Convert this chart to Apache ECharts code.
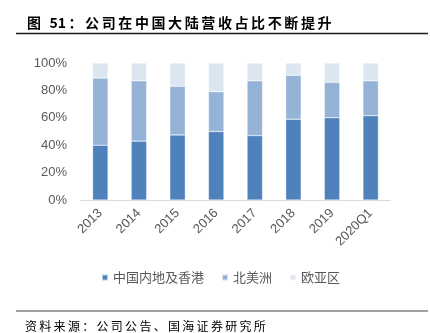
<!DOCTYPE html>
<html>
<head>
<meta charset="utf-8">
<script src="https://cdn.jsdelivr.net/npm/echarts@6/dist/echarts.min.js"></script>
<style>
  html, body { margin: 0; padding: 0; background: #fff; }
  #chart { width: 430px; height: 333px; }
</style>
</head>
<body>
<div id="chart"></div>
<script>
// Revenue share by region (%)
const categories = ['2013', '2014', '2015', '2016', '2017', '2018', '2019', '2020Q1'];
const chinaHK = [40, 43, 47.5, 50, 47, 59, 60, 61.5];
const northAmerica = [49, 44, 35.5, 29, 40, 32, 26, 25.5];
const euroAsia = [11, 13, 17, 21, 13, 9, 14, 13];
const seriesNames = ['中国内地及香港', '北美洲', '欧亚区'];
const yTicks = [0, 20, 40, 60, 80, 100];
const titleText = '图 51：公司在中国大陆营收占比不断提升';
const sourceText = '资料来源：公司公告、国海证券研究所';

const colors = ['#4F81BD', '#95B3D7', '#DCE6F1'];
const textGray = '#595959';
const cjk = '"Noto Sans CJK SC", "Noto Sans", sans-serif';
const latin = 'Arial, "Liberation Sans", sans-serif';

// Lay out a string with extra spacing between CJK characters;
// runs of ASCII (e.g. numbers) stay together as one token
const measureCtx = document.createElement('canvas').getContext('2d');
function spacedText(str, x, y, font, spacing, fill) {
  measureCtx.font = font;
  const tokens = str.match(/[\x21-\x7e]+|[\s\S]/gu) || [];
  const children = [];
  let cx = x;
  for (const tk of tokens) {
    children.push({
      type: 'text', x: cx, y: y,
      style: { text: tk, font: font, fill: fill, textVerticalAlign: 'middle' },
      silent: true
    });
    cx += measureCtx.measureText(tk).width + spacing;
  }
  return { type: 'group', children: children };
}

const chart = echarts.init(document.getElementById('chart'), null, { renderer: 'canvas' });

const mkSeries = (name, data, color) => ({
  name: name,
  type: 'bar',
  stack: 'total',
  barWidth: '40%',
  data: data,
  itemStyle: { color: color, borderColor: 'rgba(255,255,255,0.6)', borderWidth: 0.5 },
  emphasis: { disabled: true }
});

chart.setOption({
  animation: false,
  textStyle: { fontFamily: cjk },
  grid: { left: 81, right: 40, top: 63, bottom: 133, containLabel: false },
  legend: {
    left: 96,
    top: 266,
    itemWidth: 6,
    itemHeight: 6,
    itemGap: 17,
    icon: 'rect',
    textStyle: { fontSize: 13, color: textGray, fontFamily: cjk },
    data: seriesNames
  },
  xAxis: {
    type: 'category',
    data: categories,
    axisLine: { lineStyle: { color: '#D9D9D9', width: 1 } },
    axisTick: { show: false },
    axisLabel: { rotate: 45, fontSize: 13, color: textGray, margin: 11, fontFamily: latin }
  },
  yAxis: {
    type: 'value',
    min: yTicks[0],
    max: yTicks[yTicks.length - 1],
    interval: 20,
    splitLine: { show: false },
    axisLine: { show: false },
    axisTick: { show: false },
    axisLabel: { formatter: '{value}%', fontSize: 13, color: textGray, margin: 14, fontFamily: latin }
  },
  series: [
    mkSeries(seriesNames[0], chinaHK, colors[0]),
    mkSeries(seriesNames[1], northAmerica, colors[1]),
    mkSeries(seriesNames[2], euroAsia, colors[2])
  ],
  graphic: [
    spacedText(titleText, 27, 23, 'bold 14px ' + cjk, 2.6, '#000'),
    {
      type: 'line', shape: { x1: 16, y1: 33.5, x2: 428, y2: 33.5 },
      style: { stroke: '#1a1a1a', lineWidth: 1.5 }
    },
    {
      type: 'line', shape: { x1: 16, y1: 311, x2: 428, y2: 311 },
      style: { stroke: '#808080', lineWidth: 1.5 }
    },
    spacedText(sourceText, 25, 326, '12px ' + cjk, 2.3, '#000')
  ]
});
</script>
</body>
</html>
